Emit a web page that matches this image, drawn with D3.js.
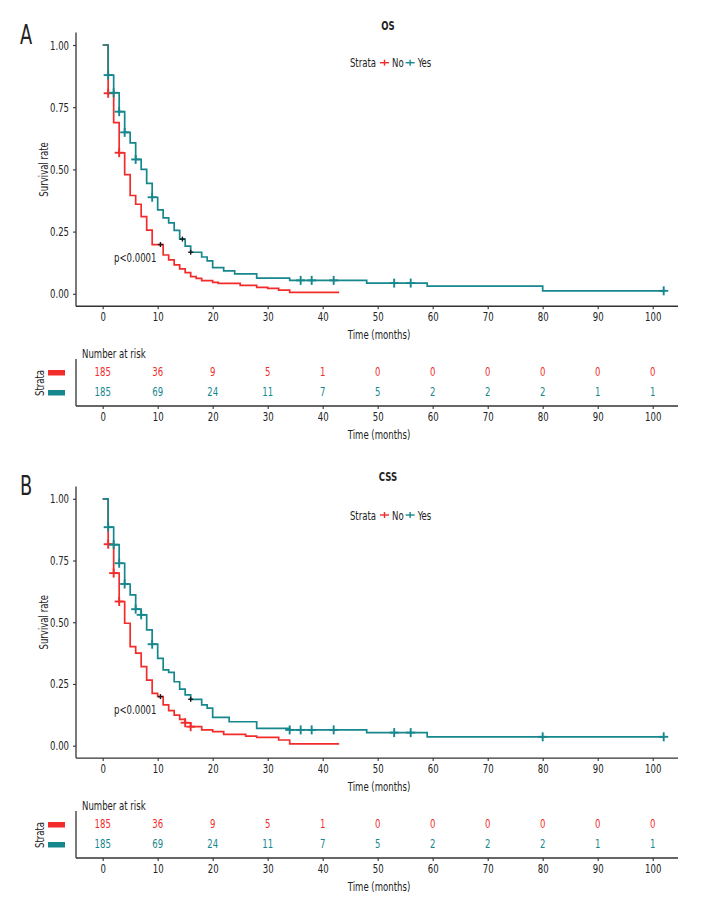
<!DOCTYPE html>
<html><head><meta charset="utf-8">
<script src="https://cdn.jsdelivr.net/npm/d3@7"></script>
<style>
html,body{margin:0;padding:0;background:#fff;}
svg text{font-family:"DejaVu Sans Condensed","DejaVu Sans",sans-serif;font-stretch:condensed;fill:#222;}
</style></head>
<body><svg id="c" width="720" height="912"></svg>
<script>
// ---------- data ----------
const xTicks = [0,10,20,30,40,50,60,70,80,90,100];
const yTicks = [0,0.25,0.5,0.75,1];
const yTickLabels = ["0.00","0.25","0.50","0.75","1.00"];
const strataNames = ["No","Yes"];
const pLabel = "p<0.0001";

// OS
const osNoTime = [0,1,2,3,4,5,6,7,8,9,11,12,13,14,15,16,17,18,20,21,25,28,30,32,34];
const osNoSurv = [1,0.806,0.688,0.567,0.479,0.395,0.36,0.31,0.256,0.198,0.156,0.136,0.116,0.1,0.085,0.069,0.062,0.053,0.046,0.042,0.034,0.026,0.022,0.015,0.006];
const osNoEnd = 43;
const osYesTime = [0,1,2,3,4,5,6,7,8,9,10,11,12,13,14,15,16,18,19,20,22,24,28,34,48,59,80];
const osYesSurv = [1,0.879,0.808,0.732,0.649,0.607,0.54,0.5,0.444,0.388,0.337,0.305,0.285,0.255,0.22,0.192,0.167,0.148,0.132,0.105,0.092,0.08,0.063,0.054,0.043,0.031,0.012];
const osYesEnd = 102;
const osNoCensor = [1,3];
const osYesCensor = [1,2,3,4,6,9,36,38,42,53,56,102];
const osNoDark = [10.5];
const osYesDark = [14.5,16];

// CSS
const cssNoTime = [0,1,2,3,4,5,6,7,8,9,10,11,12,13,14,15,16,18,20,22,26,28,32,34];
const cssNoSurv = [1,0.816,0.699,0.584,0.496,0.401,0.375,0.32,0.266,0.212,0.199,0.165,0.142,0.124,0.107,0.093,0.077,0.064,0.057,0.046,0.039,0.034,0.023,0.007];
const cssNoEnd = 43;
const cssYesTime = [0,1,2,3,4,5,6,7,8,9,10,11,12,13,14,15,16,18,19,20,23,28,34,48,59];
const cssYesSurv = [1,0.885,0.814,0.739,0.655,0.611,0.553,0.53,0.469,0.411,0.354,0.307,0.297,0.259,0.229,0.206,0.188,0.165,0.152,0.115,0.097,0.07,0.064,0.053,0.036];
const cssYesEnd = 102;
const cssNoCensor = [1,2,3,15,16];
const cssYesCensor = [1,2,3,4,6,7,9,34,36,38,42,53,56,80,102];
const cssNoDark = [10.5];
const cssYesDark = [16];

// Number at risk
const riskNo = [185,36,9,5,1,0,0,0,0,0,0];
const riskYes = [185,69,24,11,7,5,2,2,2,1,1];

// ---------- drawing ----------
const colors = ["#F22B2B","#16878D"];
const FS = 12.5, SQ = 0.76;
const svg = d3.select("#c");
const x = d3.scaleLinear().domain([-4.85,104.6]).range([76,678]);

function squeeze(sel){
  sel.each(function(){
    const L = this.getComputedTextLength();
    if (L > 0) d3.select(this).attr("textLength", L*SQ).attr("lengthAdjust","spacingAndGlyphs");
  });
  return sel;
}
function stepAt(times, surv, t){
  let v = surv[0];
  for(let i=0;i<times.length;i++){ if(times[i] <= t) v = surv[i]; }
  return v;
}
function plus(g, cx, cy, col, s, w){
  g.append("line").attr("x1",cx-s).attr("x2",cx+s).attr("y1",cy).attr("y2",cy)
    .attr("stroke",col).attr("stroke-width",w);
  g.append("line").attr("x1",cx).attr("x2",cx).attr("y1",cy-s).attr("y2",cy+s)
    .attr("stroke",col).attr("stroke-width",w);
}

function panel(cfg){
  const g = svg.append("g");
  const y = d3.scaleLinear().domain([0,1]).range([cfg.y0, cfg.y1]);
  const yB = y(-0.05), yT = y(1.05);
  // panel letter
  g.append("text").attr("x",20).attr("y",cfg.letterY).attr("font-size",26).text(cfg.letter);
  // title
  g.append("text").attr("x",388).attr("y",cfg.titleY).attr("text-anchor","middle")
    .attr("dominant-baseline","central").attr("font-size",FS).attr("font-weight","bold").text(cfg.title);
  // legend
  const ly = cfg.legendY;
  g.append("text").attr("x",376).attr("y",ly).attr("text-anchor","end")
    .attr("dominant-baseline","central").attr("font-size",FS).text("Strata");
  let lx = 380;
  strataNames.forEach((nm,i)=>{
    g.append("line").attr("x1",lx).attr("x2",lx+9).attr("y1",ly).attr("y2",ly)
      .attr("stroke",colors[i]).attr("stroke-width",1.4);
    g.append("line").attr("x1",lx+4.5).attr("x2",lx+4.5).attr("y1",ly-3).attr("y2",ly+3)
      .attr("stroke",colors[i]).attr("stroke-width",1.4);
    const t = g.append("text").attr("x",lx+12).attr("y",ly).attr("dominant-baseline","central")
      .attr("font-size",FS).text(nm);
    lx = lx + 12 + t.node().getComputedTextLength()*SQ + 2;
  });
  // axes
  const ya = g.append("g").attr("transform","translate(76,0)")
    .call(d3.axisLeft(y).tickValues(yTicks).tickFormat((d,i)=>yTickLabels[i]).tickSize(3).tickPadding(4));
  ya.select(".domain").attr("d",`M0,${yT}V${yB}`);
  const xa = g.append("g").attr("transform",`translate(0,${yB})`)
    .call(d3.axisBottom(x).tickValues(xTicks).tickSize(3).tickPadding(3));
  [ya,xa].forEach(a=>{
    a.select(".domain").attr("stroke","#333").attr("stroke-width",1.3);
    a.selectAll(".tick line").attr("stroke","#333").attr("stroke-width",1.1);
    a.selectAll(".tick text").attr("font-size",FS).attr("fill","#222");
  });
  xa.select(".domain").attr("d","M76,0H678");
  g.append("text").attr("transform",`translate(43,${(y(0)+y(1))/2}) rotate(-90)`)
    .attr("text-anchor","middle").attr("dominant-baseline","central").attr("font-size",FS).text("Survival rate");
  g.append("text").attr("x",379).attr("y",yB+28).attr("text-anchor","middle")
    .attr("dominant-baseline","central").attr("font-size",FS).text("Time (months)");
  // curves
  const line = d3.line().x(d=>x(d[0])).y(d=>y(d[1])).curve(d3.curveStepAfter);
  cfg.series.forEach((s,i)=>{
    const pts = s.time.map((t,j)=>[t,s.surv[j]]);
    pts.push([s.end, s.surv[s.surv.length-1]]);
    g.append("path").datum(pts).attr("d",line).attr("fill","none")
      .attr("stroke",colors[i]).attr("stroke-width",1.7);
  });
  cfg.series.forEach((s,i)=>{
    s.censor.forEach(t=> plus(g, x(t), y(stepAt(s.time,s.surv,t)), colors[i], 4.5, 1.9));
    s.dark.forEach(t=> plus(g, x(t), y(stepAt(s.time,s.surv,t)), "#1a1a1a", 2.5, 1.4));
  });
  g.append("text").attr("x",114).attr("y",cfg.pY).attr("dominant-baseline","central")
    .attr("font-size",FS).text(pLabel);

  // risk table
  const rt = cfg.riskTop, rows = [cfg.riskTop+18, cfg.riskTop+38], rb = cfg.riskTop+53;
  g.append("text").attr("x",82).attr("y",rt).attr("dominant-baseline","central")
    .attr("font-size",FS).text("Number at risk");
  g.append("line").attr("x1",76).attr("x2",76).attr("y1",rt+6).attr("y2",rb)
    .attr("stroke","#333").attr("stroke-width",1.3);
  const ra = g.append("g").attr("transform",`translate(0,${rb})`)
    .call(d3.axisBottom(x).tickValues(xTicks).tickSize(3).tickPadding(3));
  ra.select(".domain").attr("d","M76,0H678").attr("stroke","#333").attr("stroke-width",1.3);
  ra.selectAll(".tick line").attr("stroke","#333").attr("stroke-width",1.1);
  ra.selectAll(".tick text").attr("font-size",FS).attr("fill","#222");
  g.append("text").attr("x",379).attr("y",rb+28).attr("text-anchor","middle")
    .attr("dominant-baseline","central").attr("font-size",FS).text("Time (months)");
  [riskNo, riskYes].forEach((arr,i)=>{
    g.selectAll(null).data(arr).enter().append("text")
      .attr("x",(d,j)=>x(xTicks[j])).attr("y",rows[i]).attr("text-anchor","middle")
      .attr("dominant-baseline","central").attr("font-size",FS)
      .style("fill",colors[i]).text(d=>d);
    g.append("rect").attr("x",48).attr("y",rows[i]-1).attr("width",17).attr("height",5.5)
      .attr("fill",colors[i]);
  });
  g.append("text").attr("transform",`translate(39,${(rows[0]+rows[1])/2+2}) rotate(-90)`)
    .attr("text-anchor","middle").attr("dominant-baseline","central").attr("font-size",FS).text("Strata");
}

panel({letter:"A", letterY:44, title:"OS", titleY:25, legendY:62.7, y1:45, y0:293.8, pY:257.3, riskTop:353,
  series:[
    {time:osNoTime, surv:osNoSurv, end:osNoEnd, censor:osNoCensor, dark:osNoDark},
    {time:osYesTime, surv:osYesSurv, end:osYesEnd, censor:osYesCensor, dark:osYesDark}
  ]});
panel({letter:"B", letterY:495, title:"CSS", titleY:476.7, legendY:515, y1:498.8, y0:745.7, pY:709.3, riskTop:805,
  series:[
    {time:cssNoTime, surv:cssNoSurv, end:cssNoEnd, censor:cssNoCensor, dark:cssNoDark},
    {time:cssYesTime, surv:cssYesSurv, end:cssYesEnd, censor:cssYesCensor, dark:cssYesDark}
  ]});
squeeze(svg.selectAll("text"));
</script></body></html>
